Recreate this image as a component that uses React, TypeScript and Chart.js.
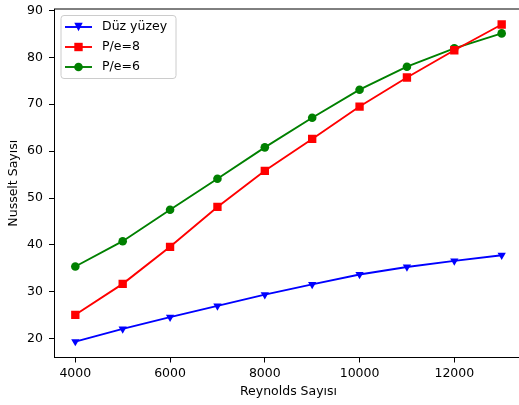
import React, { useEffect, useRef } from "react";
import { Chart, registerables } from "chart.js";

Chart.register(...registerables);

const reynolds = [4000, 5000, 6000, 7000, 8000, 9000, 10000, 11000, 12000, 13000];
const duzYuzey = [19.4, 22.1, 24.6, 27.0, 29.4, 31.6, 33.7, 35.3, 36.6, 37.8];
const pe8 = [25.1, 31.7, 39.6, 48.1, 55.8, 62.6, 69.5, 75.7, 81.5, 87.0];
const pe6 = [35.4, 40.8, 47.5, 54.1, 60.8, 67.1, 73.1, 78.0, 81.9, 85.1];

const xTicks = [4000, 6000, 8000, 10000, 12000];
const yTicks = [20, 30, 40, 50, 60, 70, 80, 90];

const seriesLabels = ["Düz yüzey", "P/e=8", "P/e=6"];
const seriesColors = ["#0000ff", "#ff0000", "#008000"];
const seriesMarkers = ["triangleDown", "rect", "circle"];

const FONT = "'DejaVu Sans', sans-serif";
const FS = 12.5;

function drawMarker(ctx: CanvasRenderingContext2D, kind: string, x: number, y: number, color: string) {
  ctx.save();
  ctx.fillStyle = color;
  ctx.beginPath();
  if (kind === "circle") {
    ctx.arc(x, y, 4.3, 0, Math.PI * 2);
  } else if (kind === "rect") {
    ctx.rect(x - 4.2, y - 4.2, 8.4, 8.4);
  } else {
    ctx.moveTo(x - 4.2, y - 4.2);
    ctx.lineTo(x + 4.2, y - 4.2);
    ctx.lineTo(x, y + 4.2);
    ctx.closePath();
  }
  ctx.fill();
  ctx.restore();
}

const framePlugin = {
  id: "frameAndLegend",
  afterDraw(chart: any) {
    const { ctx, chartArea } = chart;
    ctx.save();
    ctx.strokeStyle = "#000";
    ctx.lineWidth = 1;
    ctx.beginPath();
    ctx.moveTo(chartArea.left, chartArea.top);
    ctx.lineTo(chartArea.right, chartArea.top);
    ctx.stroke();

    // legend box
    const bx = 61, by = 15.5, bw = 115, bh = 63, r = 3;
    ctx.beginPath();
    ctx.moveTo(bx + r, by);
    ctx.lineTo(bx + bw - r, by);
    ctx.quadraticCurveTo(bx + bw, by, bx + bw, by + r);
    ctx.lineTo(bx + bw, by + bh - r);
    ctx.quadraticCurveTo(bx + bw, by + bh, bx + bw - r, by + bh);
    ctx.lineTo(bx + r, by + bh);
    ctx.quadraticCurveTo(bx, by + bh, bx, by + bh - r);
    ctx.lineTo(bx, by + r);
    ctx.quadraticCurveTo(bx, by, bx + r, by);
    ctx.closePath();
    ctx.fillStyle = "rgba(255,255,255,0.8)";
    ctx.fill();
    ctx.strokeStyle = "#cccccc";
    ctx.stroke();

    chart.data.datasets.forEach((ds: any, i: number) => {
      const yy = 27 + i * 20;
      ctx.strokeStyle = seriesColors[i];
      ctx.lineWidth = 1.9;
      ctx.beginPath();
      ctx.moveTo(65, yy);
      ctx.lineTo(92, yy);
      ctx.stroke();
      drawMarker(ctx, seriesMarkers[i], 78.5, yy, seriesColors[i]);
      ctx.fillStyle = "#000";
      ctx.font = `${FS}px ${FONT}`;
      ctx.textBaseline = "middle";
      ctx.textAlign = "left";
      ctx.fillText(ds.label, 102, yy);
    });
    ctx.restore();
  },
};

export default function App() {
  const canvasRef = useRef<HTMLCanvasElement | null>(null);

  useEffect(() => {
    if (!canvasRef.current) return;
    const series = [duzYuzey, pe8, pe6];
    const chart = new Chart(canvasRef.current, {
      type: "line",
      data: {
        datasets: series.map((arr, i) => ({
          label: seriesLabels[i],
          data: reynolds.map((x, j) => ({ x, y: arr[j] })),
          borderColor: seriesColors[i],
          backgroundColor: seriesColors[i],
          borderWidth: 1.9,
          pointStyle: i === 0 ? "triangle" : i === 1 ? "rect" : "circle",
          rotation: i === 0 ? 180 : 0,
          pointRadius: i === 0 ? 4.8 : i === 1 ? 5.9 : 4.3,
          pointBorderWidth: 0,
          pointHoverRadius: i === 0 ? 4.8 : i === 1 ? 5.9 : 4.3,
          fill: false,
          tension: 0,
        })),
      },
      options: {
        responsive: false,
        animation: false,
        events: [],
        layout: { padding: { left: 0, top: 9, right: 17, bottom: 0 } },
        plugins: { legend: { display: false }, tooltip: { enabled: false } },
        scales: {
          x: {
            type: "linear",
            min: 3550,
            max: 13450,
            afterBuildTicks: (s: any) => {
              s.ticks = xTicks.map((v) => ({ value: v }));
            },
            afterFit: (s: any) => {
              s.height = 47.5;
              s.paddingLeft = 0;
              s.paddingRight = 0;
            },
            grid: { drawOnChartArea: false, drawTicks: true, tickLength: 5, color: "#000" },
            border: { display: true, color: "#000", width: 1 },
            ticks: {
              autoSkip: false,
              maxRotation: 0,
              padding: 4,
              color: "#000",
              font: { family: FONT, size: FS },
              callback: (v: any) => String(v),
            },
            title: {
              display: true,
              text: "Reynolds Sayısı",
              color: "#000",
              font: { family: FONT, size: FS, lineHeight: 1.2 },
              padding: { top: 0, bottom: 5.5 },
            },
          },
          y: {
            type: "linear",
            min: 16.0,
            max: 90.3,
            afterBuildTicks: (s: any) => {
              s.ticks = yTicks.map((v) => ({ value: v }));
            },
            afterFit: (s: any) => {
              s.width = 54;
              s.paddingTop = 0;
              s.paddingBottom = 0;
            },
            grid: { drawOnChartArea: false, drawTicks: true, tickLength: 5, color: "#000" },
            border: { display: true, color: "#000", width: 1 },
            ticks: {
              autoSkip: false,
              padding: 6,
              color: "#000",
              font: { family: FONT, size: FS },
              callback: (v: any) => String(v),
            },
            title: {
              display: true,
              text: "Nusselt Sayısı",
              color: "#000",
              font: { family: FONT, size: FS, lineHeight: 1.2 },
              padding: { top: 6.5, bottom: 0 },
            },
          },
        },
      },
      plugins: [framePlugin],
    } as any);
    return () => chart.destroy();
  }, []);

  return (
    <div style={{ position: "fixed", left: 0, top: 0, width: 519, height: 405, overflow: "hidden", background: "#fff" }}>
      <canvas ref={canvasRef} width={540} height={405} style={{ display: "block" }} />
    </div>
  );
}
